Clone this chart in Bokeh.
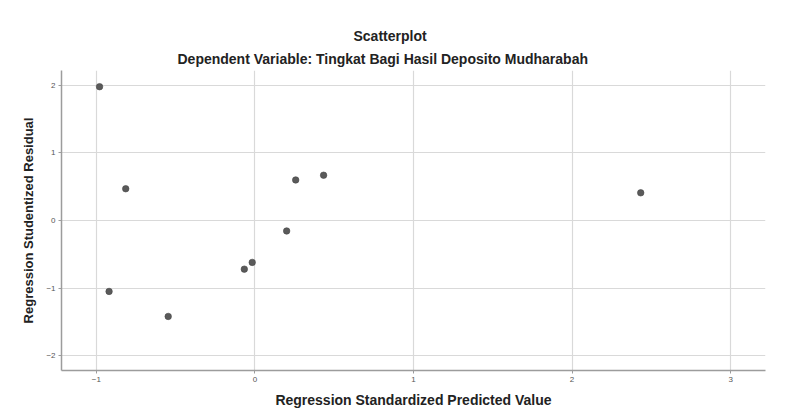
from bokeh.plotting import figure
from bokeh.models import Range1d, Title, FixedTicker, ColumnDataSource
from bokeh.embed import file_html
from bokeh.resources import INLINE

title_text = "Scatterplot"
subtitle_text = "Dependent Variable: Tingkat Bagi Hasil Deposito Mudharabah"
x_label = "Regression Standardized Predicted Value"
y_label = "Regression Studentized Residual"

pred = [-0.98, -0.92, -0.815, -0.547, -0.067, -0.017, 0.20, 0.257, 0.433, 2.433]
resid = [1.98, -1.05, 0.47, -1.42, -0.72, -0.62, -0.155, 0.60, 0.67, 0.41]

x_ticks = [-1, 0, 1, 2, 3]
y_ticks = [-2, -1, 0, 1, 2]

src = ColumnDataSource(data=dict(x=pred, y=resid))

p = figure(width=790, height=410, output_backend="svg", toolbar_location=None,
           x_range=Range1d(-1.22, 3.22), y_range=Range1d(-2.22, 2.22),
           min_border_left=61, min_border_right=25, min_border_top=70, min_border_bottom=39)
p.outline_line_color = None
p.background_fill_color = "white"
p.border_fill_color = "white"

p.scatter("x", "y", source=src, size=6.5, fill_color="#5a5a5a", line_color="#474747", line_width=0.6)

for ax in (p.xaxis[0], p.yaxis[0]):
    ax.axis_line_color = "#9c9c9c"
    ax.axis_line_width = 1.5
    ax.major_tick_line_color = "#9c9c9c"
    ax.major_tick_out = 3
    ax.major_tick_in = 0
    ax.minor_tick_line_color = None
    ax.major_label_text_font = "Liberation Sans"
    ax.major_label_text_font_size = "8px"
    ax.major_label_text_color = "#555555"
    ax.axis_label_text_font = "Liberation Sans"
    ax.axis_label_text_font_style = "bold"
    ax.axis_label_text_color = "#222222"

p.xaxis[0].ticker = FixedTicker(ticks=x_ticks)
p.yaxis[0].ticker = FixedTicker(ticks=y_ticks)
p.xaxis[0].axis_label = x_label
p.yaxis[0].axis_label = y_label
p.xaxis[0].axis_label_text_font_size = "14px"
p.yaxis[0].axis_label_text_font_size = "13px"
p.xaxis[0].major_label_standoff = 3
p.xaxis[0].axis_label_standoff = 7
p.yaxis[0].major_label_standoff = 3
p.yaxis[0].axis_label_standoff = 7

p.xgrid[0].ticker = FixedTicker(ticks=x_ticks)
p.ygrid[0].ticker = FixedTicker(ticks=y_ticks)
for g in (p.xgrid[0], p.ygrid[0]):
    g.grid_line_color = "#d9d9d9"
    g.grid_line_width = 1.2

sub = Title(text=subtitle_text, align="left", offset=116, standoff=7,
            text_font="Liberation Sans", text_font_style="bold", text_font_size="14px",
            text_color="#222222")
ttl = Title(text=title_text, align="left", offset=292, standoff=4,
            text_font="Liberation Sans", text_font_style="bold", text_font_size="14px",
            text_color="#222222")
p.add_layout(sub, "above")
p.add_layout(ttl, "above")

open("out.html", "w").write(file_html(p, INLINE))
